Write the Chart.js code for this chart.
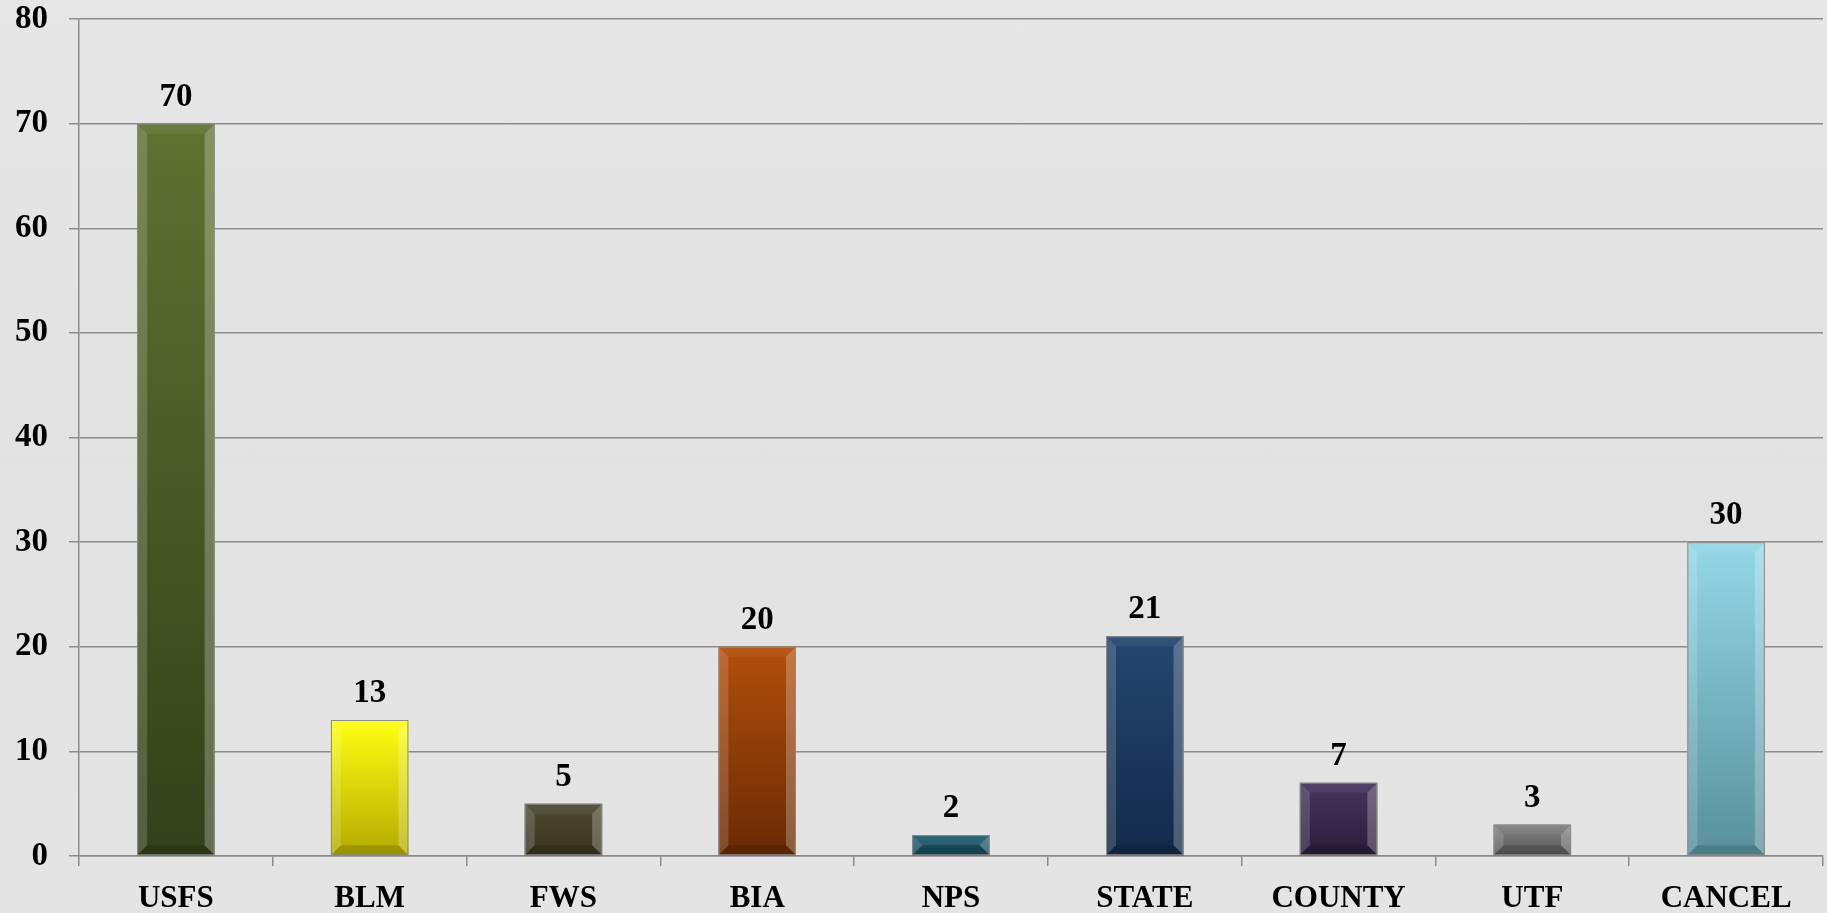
<!DOCTYPE html>
<html>
<head>
<meta charset="utf-8">
<script src="https://cdn.jsdelivr.net/npm/chart.js@4/dist/chart.umd.min.js"></script>
<style>
  html, body { margin: 0; padding: 0; background: #e3e3e3; }
  #wrap { width: 1827px; height: 913px; position: relative;
    background: linear-gradient(180deg, #e6e6e6 0%, #e2e2e2 50%, #e4e4e4 100%); }
</style>
</head>
<body>
<div id="wrap"><canvas id="c"></canvas></div>
<script>
const categories = ["USFS", "BLM", "FWS", "BIA", "NPS", "STATE", "COUNTY", "UTF", "CANCEL"];
const values = [70, 13, 5, 20, 2, 21, 7, 3, 30];
const topColors = ["#5d7331", "#ffff12", "#4f4a31", "#b24f0a", "#1f5e6e", "#25476f", "#46365f", "#828282", "#95d7e7"];
const bottomColors = ["#33401a", "#b3aa00", "#383220", "#682a06", "#174a58", "#13294a", "#2a1d39", "#565656", "#58909c"];
const yTicks = [0, 10, 20, 30, 40, 50, 60, 70, 80];

const FONT = "'Liberation Serif', 'DejaVu Serif', serif";

function barGradient(ctx) {
  const chart = ctx.chart;
  const i = ctx.dataIndex;
  const ys = chart.scales && chart.scales.y;
  if (!ys || ys.top === undefined || !isFinite(ys.getPixelForValue(0))) return topColors[i];
  const top = ys.getPixelForValue(values[i]);
  const base = ys.getPixelForValue(0);
  if (!isFinite(top) || !isFinite(base) || top === base) return topColors[i];
  const g = chart.ctx.createLinearGradient(0, top, 0, base);
  g.addColorStop(0, topColors[i]);
  g.addColorStop(1, bottomColors[i]);
  return g;
}

const bevelPlugin = {
  id: 'bevel',
  afterDatasetsDraw(chart) {
    const ctx = chart.ctx;
    const meta = chart.getDatasetMeta(0);
    meta.data.forEach((bar, i) => {
      const p = bar.getProps(['x', 'y', 'base', 'width'], true);
      const l = p.x - p.width / 2, r = p.x + p.width / 2;
      const t = Math.min(p.y, p.base), b = Math.max(p.y, p.base);
      const h = b - t;
      const s = Math.min(10, h / 2, p.width / 2);
      ctx.save();
      ctx.beginPath();
      ctx.moveTo(l, t); ctx.lineTo(l + s, t + s); ctx.lineTo(l + s, b - s); ctx.lineTo(l, b); ctx.closePath();
      ctx.fillStyle = 'rgba(255,255,255,0.16)'; ctx.fill();
      ctx.beginPath();
      ctx.moveTo(r, t); ctx.lineTo(r - s, t + s); ctx.lineTo(r - s, b - s); ctx.lineTo(r, b); ctx.closePath();
      ctx.fillStyle = 'rgba(255,255,255,0.24)'; ctx.fill();
      ctx.beginPath();
      ctx.moveTo(l, t); ctx.lineTo(r, t); ctx.lineTo(r - s, t + s); ctx.lineTo(l + s, t + s); ctx.closePath();
      ctx.fillStyle = 'rgba(255,255,255,0.06)'; ctx.fill();
      ctx.beginPath();
      ctx.moveTo(l, b); ctx.lineTo(r, b); ctx.lineTo(r - s, b - s); ctx.lineTo(l + s, b - s); ctx.closePath();
      ctx.fillStyle = 'rgba(0,0,0,0.14)'; ctx.fill();
      ctx.strokeStyle = '#8a8a8a'; ctx.lineWidth = 1;
      ctx.strokeRect(l + 0.5, t + 0.5, p.width - 1, h - 1);
      ctx.fillStyle = '#000';
      ctx.font = "bold 33px " + FONT;
      ctx.textAlign = 'center';
      ctx.textBaseline = 'alphabetic';
      ctx.fillText(String(values[i]), p.x, t - 18);
      ctx.restore();
    });
  }
};

new Chart(document.getElementById('c'), {
  type: 'bar',
  data: {
    labels: categories,
    datasets: [{
      data: values,
      backgroundColor: barGradient,
      borderWidth: 0,
      barPercentage: 0.8,
      categoryPercentage: 0.5
    }]
  },
  options: {
    responsive: true,
    maintainAspectRatio: false,
    animation: false,
    layout: { padding: { top: 0, right: 4, bottom: 0, left: 0 } },
    plugins: { legend: { display: false }, tooltip: { enabled: false } },
    scales: {
      x: {
        grid: { drawOnChartArea: false, drawTicks: true, tickLength: 10, color: '#8c8c8c', lineWidth: 1.5, offset: true },
        border: { color: '#8c8c8c', width: 1.5 },
        ticks: { color: '#000', font: { family: FONT, size: 31, weight: 'bold' }, padding: 14, maxRotation: 0, autoSkip: false },
        afterFit(scale) { scale.height = 57; }
      },
      y: {
        min: 0, max: 80,
        afterBuildTicks(scale) { scale.ticks = yTicks.map(v => ({ value: v })); },
        grid: { color: '#8c8c8c', lineWidth: 1.5, tickLength: 10 },
        border: { color: '#8c8c8c', width: 1.5 },
        ticks: { color: '#000', font: { family: FONT, size: 33, weight: 'bold' }, padding: 21 },
        afterFit(scale) { scale.width = 79; scale.paddingTop = 19; scale.paddingBottom = 0; }
      }
    }
  },
  plugins: [bevelPlugin]
});
</script>
</body>
</html>
